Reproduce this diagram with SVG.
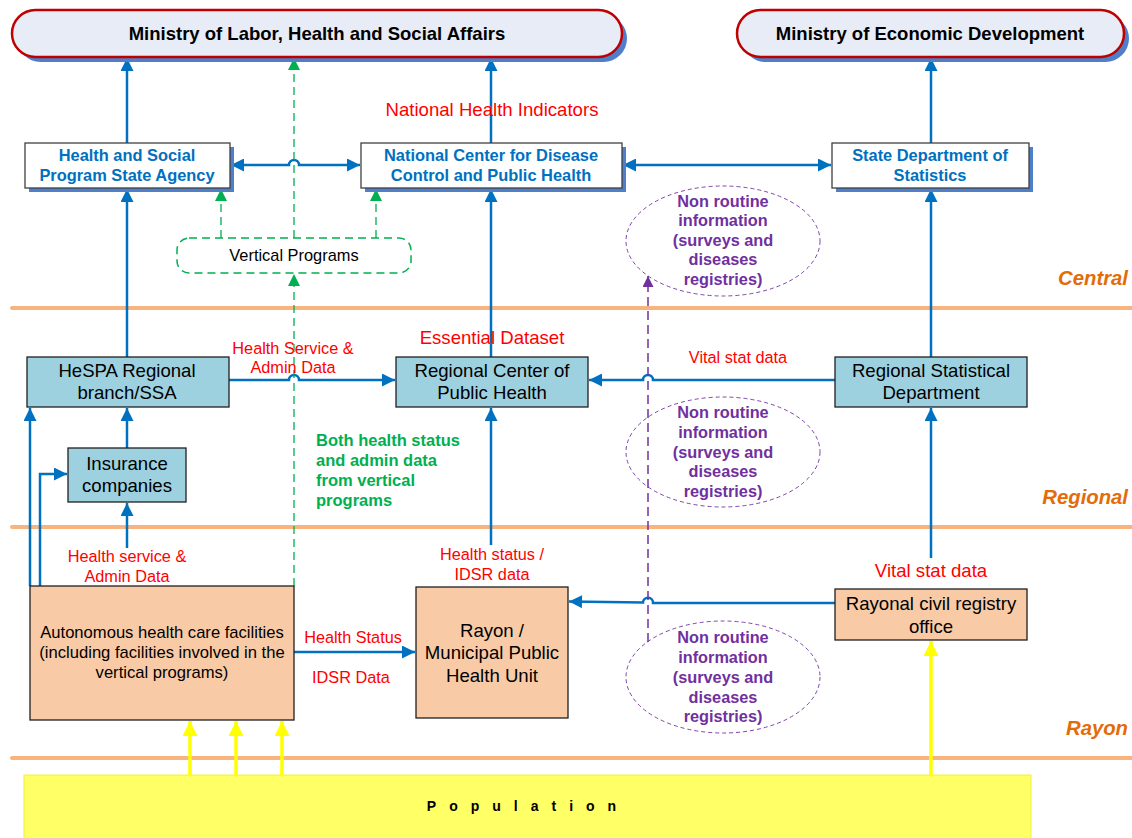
<svg xmlns="http://www.w3.org/2000/svg" width="1132" height="838" viewBox="0 0 1132 838">
<defs>
<style>
text{font-family:"Liberation Sans",Arial,sans-serif;text-anchor:middle;dominant-baseline:central}
.min{font-size:18.5px;font-weight:bold;fill:#000}
.bar{fill:#e8ecf6;stroke:#c00000;stroke-width:2.5}
.barsh{fill:#4f7fc8}
.wbox{fill:#fff;stroke:#404040;stroke-width:1.3}
.sh{fill:#4f7fc8}
.bt{font-size:16.4px;font-weight:bold;fill:#0070c0}
.lb{fill:#9dd1df;stroke:#202020;stroke-width:1.3}
.pk{fill:#f8cba6;stroke:#202020;stroke-width:1.3}
.nt{font-size:18.6px;fill:#000}
.red{font-size:16.3px;fill:#ff0000}
.red16{font-size:18.6px;fill:#ff0000}
.lvl{font-size:20.3px;font-weight:bold;font-style:italic;fill:#e36c09;text-anchor:end}
.sep{stroke:#f7b47e;stroke-width:4;stroke-linecap:round}
.blue{fill:none;stroke:#0070c0;stroke-width:2.5}
.green{fill:none;stroke:#00b050;stroke-width:1.3;stroke-dasharray:8 5}
.purple{fill:none;stroke:#7030a0;stroke-width:1.5;stroke-dasharray:9 5}
.yel{fill:none;stroke:#ffff00;stroke-width:3.5}
.ell{fill:none;stroke:#7030a0;stroke-width:0.9;stroke-dasharray:4 3}
.pt{font-size:16.3px;font-weight:bold;fill:#7030a0}
.gt{font-size:16.5px;font-weight:bold;fill:#00b050;text-anchor:start}
</style>
<marker id="ab" viewBox="0 0 10 10" refX="10" refY="5" markerWidth="15" markerHeight="13" markerUnits="userSpaceOnUse" orient="auto-start-reverse"><path d="M0,0 L10,5 L0,10 z" fill="#0070c0"/></marker>
<marker id="ag" viewBox="0 0 10 10" refX="10" refY="5" markerWidth="14" markerHeight="12" markerUnits="userSpaceOnUse" orient="auto"><path d="M0,0 L10,5 L0,10 z" fill="#00b050"/></marker>
<marker id="ap" viewBox="0 0 10 10" refX="10" refY="5" markerWidth="14" markerHeight="11" markerUnits="userSpaceOnUse" orient="auto"><path d="M0,0 L10,5 L0,10 z" fill="#7030a0"/></marker>
<marker id="ay" viewBox="0 0 10 10" refX="10" refY="5" markerWidth="16" markerHeight="15" markerUnits="userSpaceOnUse" orient="auto"><path d="M0,0 L10,5 L0,10 z" fill="#ffff00"/></marker>
</defs>
<rect width="1132" height="838" fill="#fff"/>

<!-- level separators -->
<g id="levels">
<line class="sep" x1="12" y1="308" x2="1132" y2="308"/>
<line class="sep" x1="12" y1="527" x2="1132" y2="527"/>
<line class="sep" x1="12" y1="758" x2="1132" y2="758"/>
<text class="lvl" x="1128" y="278">Central</text>
<text class="lvl" x="1128" y="497">Regional</text>
<text class="lvl" x="1128" y="728">Rayon</text>
</g>

<!-- Population -->
<g id="population">
<rect x="24" y="775" width="1007" height="66" fill="#ffff66" stroke="#f0f040" stroke-width="1"/>
<text x="528" y="806" style="font-size:14px;font-weight:bold;letter-spacing:13px">Population</text>
</g>

<!-- connectors -->
<g id="connectors">
<line class="blue" x1="127" y1="143" x2="127" y2="58" marker-end="url(#ab)"/>
<line class="blue" x1="491" y1="143" x2="491" y2="58" marker-end="url(#ab)"/>
<line class="blue" x1="931" y1="143" x2="931" y2="58" marker-end="url(#ab)"/>
<path class="blue" d="M231,165 H289 A5,5 0 0 1 299,165 H360" marker-start="url(#ab)" marker-end="url(#ab)"/>
<path class="blue" d="M623,165 H831" marker-start="url(#ab)" marker-end="url(#ab)"/>
<line class="blue" x1="127" y1="357" x2="127" y2="189" marker-end="url(#ab)"/>
<line class="blue" x1="491" y1="357" x2="491" y2="189" marker-end="url(#ab)"/>
<line class="blue" x1="931" y1="357" x2="931" y2="189" marker-end="url(#ab)"/>
<path class="blue" d="M229,380 H289 A5,5 0 0 1 299,380 H395" marker-end="url(#ab)"/>
<path class="blue" d="M835,380 H653 A5,5 0 0 0 643,380 H589" marker-end="url(#ab)"/>
<line class="blue" x1="127" y1="448" x2="127" y2="408" marker-end="url(#ab)"/>
<line class="blue" x1="127" y1="548" x2="127" y2="503" marker-end="url(#ab)"/>
<line class="blue" x1="30" y1="586" x2="30" y2="408" marker-end="url(#ab)"/>
<path class="blue" d="M40,586 V474 H67" marker-end="url(#ab)"/>
<line class="blue" x1="491" y1="545" x2="491" y2="408" marker-end="url(#ab)"/>
<line class="blue" x1="931" y1="558" x2="931" y2="408" marker-end="url(#ab)"/>
<line class="blue" x1="294" y1="652" x2="415" y2="652" marker-end="url(#ab)"/>
<path class="blue" d="M835,603 H653 A5,5 0 0 0 643,602.5 L569,601.5" marker-end="url(#ab)"/>
<line class="green" x1="294" y1="238" x2="294" y2="58" marker-end="url(#ag)"/>
<line class="green" x1="294" y1="586" x2="294" y2="274" marker-end="url(#ag)"/>
<line class="green" x1="221" y1="238" x2="221" y2="189" marker-end="url(#ag)"/>
<line class="green" x1="376" y1="238" x2="376" y2="189" marker-end="url(#ag)"/>
<line class="purple" x1="648" y1="642" x2="648" y2="276" marker-end="url(#ap)"/>
<line class="yel" x1="190" y1="775" x2="190" y2="721" marker-end="url(#ay)"/>
<line class="yel" x1="236" y1="775" x2="236" y2="721" marker-end="url(#ay)"/>
<line class="yel" x1="282" y1="775" x2="282" y2="721" marker-end="url(#ay)"/>
<line class="yel" x1="931" y1="775" x2="931" y2="641" marker-end="url(#ay)"/>
</g>

<!-- connector labels -->
<g id="labels">
<text class="red16" x="492" y="109">National Health Indicators</text>
<text class="red16" x="492" y="337">Essential Dataset</text>
<text class="red" x="293" y="348">Health Service &amp;</text>
<text class="red" x="293" y="367">Admin Data</text>
<text class="red" x="738" y="357">Vital stat data</text>
<text class="gt" x="316" y="440">Both health status</text>
<text class="gt" x="316" y="460">and admin data</text>
<text class="gt" x="316" y="480">from vertical</text>
<text class="gt" x="316" y="500">programs</text>
<text class="red" x="127" y="556">Health service &amp;</text>
<text class="red" x="127" y="576">Admin Data</text>
<text class="red" x="492" y="554">Health status /</text>
<text class="red" x="492" y="574">IDSR data</text>
<text class="red16" x="931" y="570">Vital stat data</text>
<text class="red" x="353" y="637">Health Status</text>
<text class="red" x="351" y="677">IDSR Data</text>
</g>

<!-- ministries -->
<g id="ministry-labor">
<rect class="barsh" x="17" y="15" width="610" height="47" rx="23.5"/>
<rect class="bar" x="12" y="10" width="610" height="47" rx="23.5"/>
<text class="min" x="317" y="33">Ministry of Labor, Health and Social Affairs</text>
</g>
<g id="ministry-econ">
<rect class="barsh" x="742" y="15" width="387" height="47" rx="23.5"/>
<rect class="bar" x="737" y="10" width="387" height="47" rx="23.5"/>
<text class="min" x="930" y="33">Ministry of Economic Development</text>
</g>

<!-- central nodes -->
<g id="hspsa">
<rect class="sh" x="29" y="147" width="205" height="45"/>
<rect class="wbox" x="25" y="143" width="205" height="45"/>
<text class="bt" x="127" y="155">Health and Social</text>
<text class="bt" x="127" y="175">Program State Agency</text>
</g>
<g id="ncdc">
<rect class="sh" x="365" y="147" width="261" height="45"/>
<rect class="wbox" x="361" y="143" width="261" height="45"/>
<text class="bt" x="491" y="155">National Center for Disease</text>
<text class="bt" x="491" y="175">Control and Public Health</text>
</g>
<g id="sds">
<rect class="sh" x="836" y="147" width="197" height="45"/>
<rect class="wbox" x="832" y="143" width="197" height="45"/>
<text class="bt" x="930" y="155">State Department of</text>
<text class="bt" x="930" y="175">Statistics</text>
</g>
<g id="vertical-programs">
<rect x="177" y="238" width="234" height="35" rx="12" fill="#fff" stroke="#00b050" stroke-width="1.5" stroke-dasharray="8 5"/>
<text x="294" y="255" style="font-size:16.4px;fill:#000">Vertical Programs</text>
</g>

<!-- non-routine ellipses -->
<g id="nonroutine-central">
<ellipse class="ell" cx="723" cy="241" rx="97" ry="55"/>
<text class="pt" x="723" y="201">Non routine</text>
<text class="pt" x="723" y="220">information</text>
<text class="pt" x="723" y="240">(surveys and</text>
<text class="pt" x="723" y="259">diseases</text>
<text class="pt" x="723" y="279">registries)</text>
</g>
<g id="nonroutine-regional">
<ellipse class="ell" cx="723" cy="452" rx="97" ry="55"/>
<text class="pt" x="723" y="412">Non routine</text>
<text class="pt" x="723" y="432">information</text>
<text class="pt" x="723" y="452">(surveys and</text>
<text class="pt" x="723" y="471">diseases</text>
<text class="pt" x="723" y="491">registries)</text>
</g>
<g id="nonroutine-rayon">
<ellipse class="ell" cx="723" cy="677" rx="97" ry="56"/>
<text class="pt" x="723" y="637">Non routine</text>
<text class="pt" x="723" y="657">information</text>
<text class="pt" x="723" y="677">(surveys and</text>
<text class="pt" x="723" y="697">diseases</text>
<text class="pt" x="723" y="716">registries)</text>
</g>

<!-- regional nodes -->
<g id="hespa-regional">
<rect class="lb" x="27" y="357" width="202" height="50"/>
<text class="nt" x="127" y="370">HeSPA Regional</text>
<text class="nt" x="127" y="392">branch/SSA</text>
</g>
<g id="rcph">
<rect class="lb" x="396" y="357" width="192" height="50"/>
<text class="nt" x="492" y="370">Regional Center of</text>
<text class="nt" x="492" y="392">Public Health</text>
</g>
<g id="rsd">
<rect class="lb" x="835" y="357" width="192" height="50"/>
<text class="nt" x="931" y="370">Regional Statistical</text>
<text class="nt" x="931" y="392">Department</text>
</g>
<g id="insurance">
<rect class="lb" x="68" y="448" width="118" height="54"/>
<text class="nt" x="127" y="463">Insurance</text>
<text class="nt" x="127" y="485">companies</text>
</g>

<!-- rayon nodes -->
<g id="ahcf">
<rect class="pk" x="30" y="586" width="264" height="134"/>
<text x="162" y="632" style="font-size:16.6px;fill:#000">Autonomous health care facilities</text>
<text x="162" y="652" style="font-size:16.6px;fill:#000">(including facilities involved in the</text>
<text x="162" y="672" style="font-size:16.6px;fill:#000">vertical programs)</text>
</g>
<g id="rayon-unit">
<rect class="pk" x="416" y="587" width="152" height="131"/>
<text class="nt" x="492" y="630">Rayon /</text>
<text class="nt" x="492" y="652">Municipal Public</text>
<text class="nt" x="492" y="675">Health Unit</text>
</g>
<g id="civil-registry">
<rect class="pk" x="835" y="589" width="192" height="51"/>
<text class="nt" x="931" y="603">Rayonal civil registry</text>
<text class="nt" x="931" y="626">office</text>
</g>
</svg>
